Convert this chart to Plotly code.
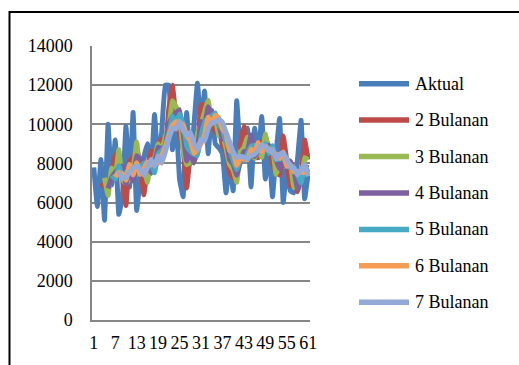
import plotly.graph_objects as go

# ---- data ----
periods = list(range(1, 62))
aktual = [7800, 5800, 8200, 5100, 10000, 6900, 9200, 5400, 6300, 9900,
          6800, 10600, 5600, 7200, 8300, 9000, 7500, 10500, 8000, 9600,
          12000, 12000, 8700, 10300, 7200, 6300, 10600, 8000, 9900, 12100,
          9900, 11700, 8500, 10700, 9000, 8800, 8500, 6500, 8000, 6600,
          11200, 8600, 8200, 9800, 6800, 9800, 8300, 10400, 7200, 8800,
          6300, 8500, 10300, 6000, 7700, 6600, 6500, 8200, 10200, 6200,
          7500]
series_names = ["Aktual", "2 Bulanan", "3 Bulanan", "4 Bulanan",
                "5 Bulanan", "6 Bulanan", "7 Bulanan"]
windows = [2, 3, 4, 5, 6, 7]
x_tick_vals = [1, 7, 13, 19, 25, 31, 37, 43, 49, 55, 61]
y_tick_vals = [0, 2000, 4000, 6000, 8000, 10000, 12000, 14000]
y_tick_text = ["0", "2000", "4000", "6000", "8000", "10000", "12000", "14000"]

colors = ["#4A7EBB", "#BE4B48", "#98B954", "#7D60A0", "#46AAC5", "#F59D56", "#93A9D7"]


def moving_forecast(values, n):
    """n-month moving-average forecast of the chart: mean of the n previous months."""
    xs, ys = [], []
    for t in range(n, len(values)):
        xs.append(periods[t])
        ys.append(sum(values[t - n:t]) / n)
    return xs, ys


FONT = "Liberation Serif, Times New Roman, serif"
W, H = 519, 365
L, R, T, B = 92, 209, 46, 45
pw, ph = W - L - R, H - T - B

fig = go.Figure()
fig.add_trace(go.Scatter(x=periods, y=aktual, mode="lines", name=series_names[0],
                         line=dict(color=colors[0], width=5, shape="spline", smoothing=0.25),
                         showlegend=False))
for i, n in enumerate(windows):
    xs, ys = moving_forecast(aktual, n)
    fig.add_trace(go.Scatter(x=xs, y=ys, mode="lines", name=series_names[i + 1],
                             line=dict(color=colors[i + 1], width=5, shape="spline", smoothing=0.25),
                             showlegend=False))


def px_x(p):
    return (p - L) / pw


def px_y(p):
    return (H - B - p) / ph


shapes = []
annotations = []
legend_y = [83.7, 120.1, 156.6, 193.0, 229.4, 265.8, 302.3]
for i, name in enumerate(series_names):
    yy = px_y(legend_y[i])
    shapes.append(dict(type="line", xref="paper", yref="paper",
                       x0=px_x(359), x1=px_x(409), y0=yy, y1=yy,
                       line=dict(color=colors[i], width=5.5)))
    annotations.append(dict(xref="paper", yref="paper", x=px_x(413), y=yy,
                            text=name, showarrow=False, xanchor="left", yanchor="middle",
                            font=dict(family=FONT, size=18, color="#000000")))

# outer chart border
shapes.append(dict(type="rect", xref="paper", yref="paper",
                   x0=px_x(9.5), x1=px_x(700), y0=px_y(12), y1=px_y(500),
                   line=dict(color="#000000", width=2), layer="below"))

fig.update_layout(
    width=W, height=H,
    margin=dict(l=L, r=R, t=T, b=B, pad=0),
    paper_bgcolor="white", plot_bgcolor="white",
    showlegend=False,
    font=dict(family=FONT, size=18, color="#000000"),
    shapes=shapes, annotations=annotations,
    xaxis=dict(range=[0.5, 61.5], tickmode="array", tickvals=x_tick_vals,
               ticktext=[str(v) for v in x_tick_vals],
               showgrid=False, zeroline=False, showline=True, linecolor="#868686",
               linewidth=1.5, ticks="", tickangle=0, ticklabelstandoff=6,
               tickfont=dict(family=FONT, size=18, color="#000000")),
    yaxis=dict(range=[0, 14000], tickmode="array", tickvals=y_tick_vals,
               ticktext=y_tick_text,
               showgrid=True, gridcolor="#868686", gridwidth=1.5,
               zeroline=False, showline=True, linecolor="#868686", linewidth=1.5,
               ticks="", ticklabelstandoff=14,
               tickfont=dict(family=FONT, size=18, color="#000000")),
)

fig.write_html("out.html")
